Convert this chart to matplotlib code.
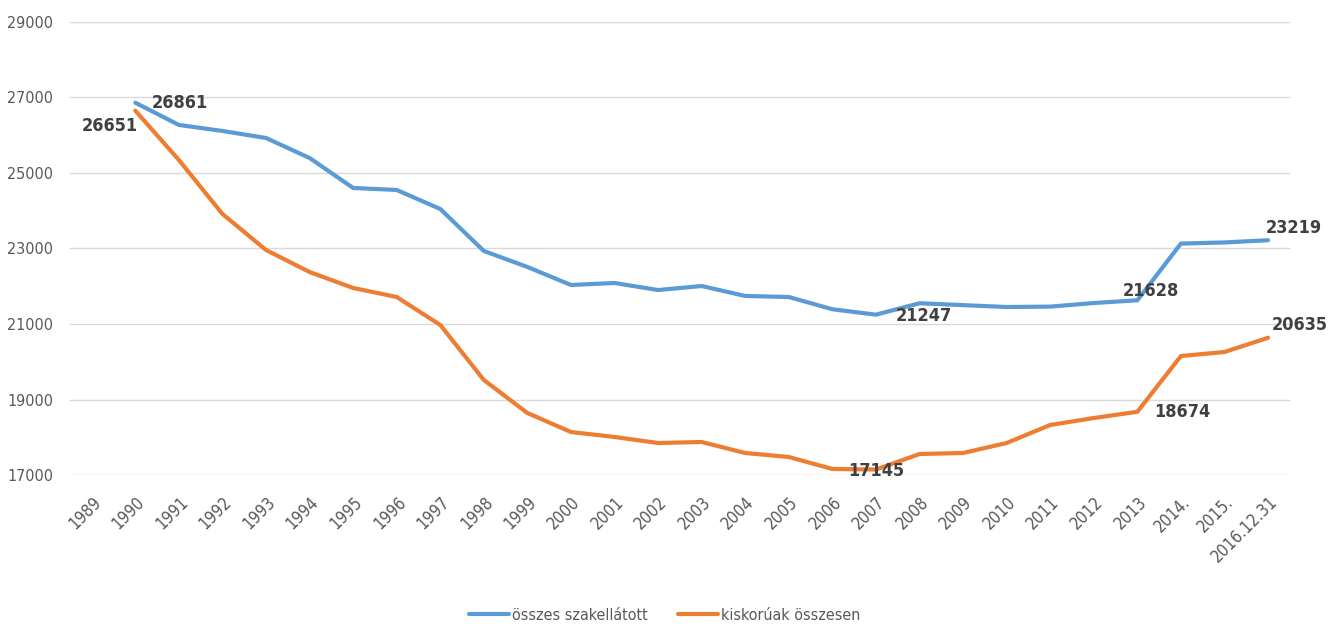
import matplotlib.pyplot as plt

plt.rcParams['font.family'] = ['DejaVu Sans']
plt.rcParams['font.stretch'] = 'condensed'

years = ['1989', '1990', '1991', '1992', '1993', '1994', '1995', '1996', '1997',
         '1998', '1999', '2000', '2001', '2002', '2003', '2004', '2005', '2006',
         '2007', '2008', '2009', '2010', '2011', '2012', '2013', '2014.', '2015.',
         '2016.12.31']

# values start at 1990 (no data for 1989)
osszes = [26861, 26272, 26113, 25927, 25397, 24603, 24550, 24046, 22934, 22510,
          22033, 22086, 21900, 22006, 21742, 21715, 21390, 21247, 21550, 21500,
          21450, 21460, 21556, 21628, 23130, 23160, 23219]
kiskoruak = [26651, 25344, 23914, 22960, 22377, 21954, 21715, 20974, 19517, 18642,
             18139, 18007, 17848, 17874, 17583, 17477, 17160, 17145, 17556, 17583,
             17848, 18325, 18510, 18674, 20152, 20258, 20635]

blue = '#5B9BD5'
orange = '#ED7D31'

fig = plt.figure(figsize=(13.38, 6.26), dpi=100)
ax = fig.add_axes([0.0523, 0.2412, 0.9117, 0.7237])

x = list(range(1, len(years)))
ax.plot(x, osszes, color=blue, lw=3, solid_capstyle='round', label='összes szakellátott')
ax.plot(x, kiskoruak, color=orange, lw=3, solid_capstyle='round', label='kiskorúak összesen')

ax.set_xlim(-0.5, len(years) - 0.5)
ax.set_ylim(17000, 29000)
ax.set_yticks(range(17000, 29001, 2000))
ax.set_xticks(range(len(years)))
ax.set_xticklabels(years, rotation=45, ha='right', rotation_mode='anchor')
ax.tick_params(axis='both', length=0, labelsize=11.5, labelcolor='#595959')
ax.tick_params(axis='x', pad=13, labelsize=12)
ax.tick_params(axis='y', pad=12)
ax.grid(axis='y', color='#D9D9D9', lw=1)
ax.set_axisbelow(True)
for s in ax.spines.values():
    s.set_visible(False)

# data labels next to selected points
lab = dict(fontsize=13, fontweight='bold', color='#404040')
def label(vals, yi, dx, dy, ha='left', va='center'):
    v = vals[yi - 1]
    ax.annotate(str(v), (yi, v), xytext=(dx, dy), textcoords='offset points',
                ha=ha, va=va, **lab)

label(osszes, 1, 12, 0)
label(kiskoruak, 1, 2, -11, ha='right')
label(osszes, 18, 14, -1)
label(osszes, 24, 10, 7, ha='center')
label(kiskoruak, 24, 12, 0)
label(kiskoruak, 18, 0, -1, ha='center')
label(osszes, 27, -2, 9)
label(kiskoruak, 27, 3, 9)

ax.legend(loc='center', bbox_to_anchor=(665 / 1338, 1 - 615 / 626), bbox_transform=fig.transFigure,
          ncol=2, frameon=False, fontsize=11.5, handlelength=2.5, handletextpad=0.2,
          columnspacing=1.9, labelcolor='#595959')

fig.savefig('out.png', dpi=100)
